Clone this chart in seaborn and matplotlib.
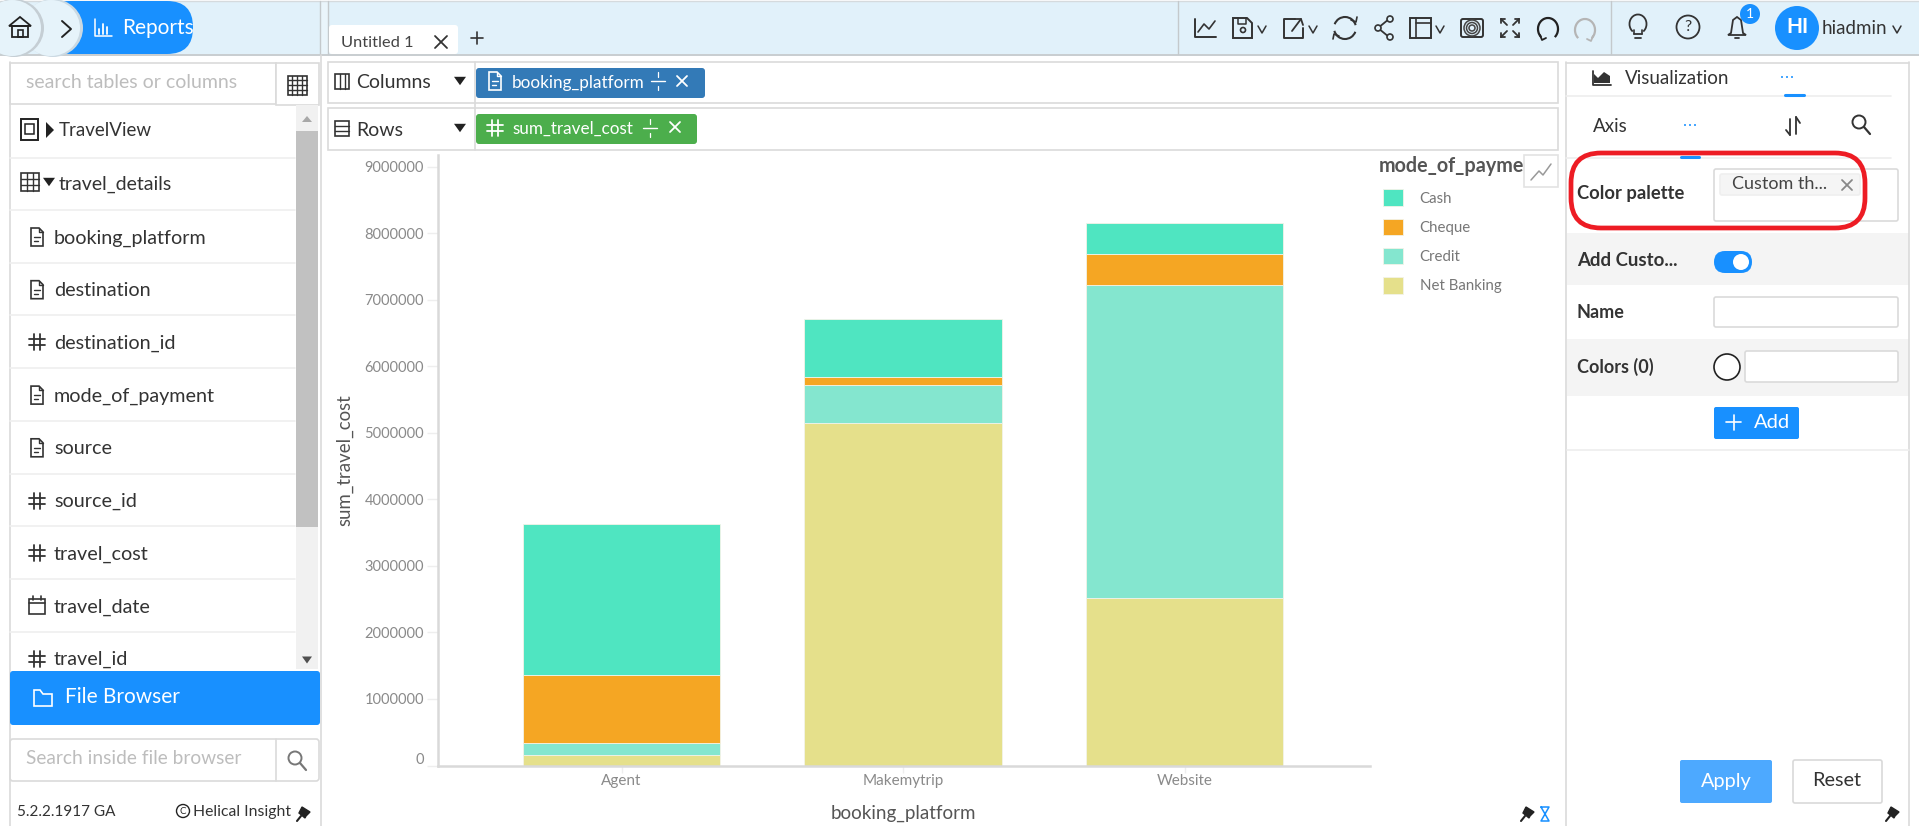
import numpy as np
import pandas as pd
import seaborn as sns
import matplotlib.pyplot as plt
from matplotlib.patches import Rectangle, FancyBboxPatch, Circle, Ellipse, Polygon, Arc
from matplotlib.transforms import Affine2D

platforms = ["Agent", "Makemytrip", "Website"]
modes = ["Cash", "Cheque", "Credit", "Net Banking"]
cash = [2275000, 875000, 467000]
cheque = [1031000, 117000, 474000]
credit = [169000, 571000, 4708000]
net_banking = [162000, 5149000, 2516000]
mode_colors = ["#4FE5C1", "#F5A623", "#84E6CF", "#E5E08B"]
y_ticks = [0, 1000000, 2000000, 3000000, 4000000, 5000000, 6000000, 7000000, 8000000, 9000000]

tables = ["booking_platform", "destination", "destination_id", "mode_of_payment",
          "source", "source_id", "travel_cost", "travel_date", "travel_id"]
table_icons = ["doc", "doc", "hash", "doc", "doc", "hash", "hash", "cal", "hash"]

BLUE = "#1890FF"
TOPBAR = "#E1F1FA"
LINE = "#DADADA"
TEXT = "#333333"

sns.set_theme(style="white")
plt.rcParams["font.family"] = ["Lato", "DejaVu Sans"]

W, H = 1919, 826
fig = plt.figure(figsize=(W / 100, H / 100), dpi=100, facecolor="white")

# whole page in pixels, the app chrome around the chart
ui = fig.add_axes([0, 0, 1, 1], zorder=0)
ui.set_xlim(0, W)
ui.set_ylim(H, 0)
ui.axis("off")


def txt(x, y, s, size=13, color=TEXT, ha="left", **kw):
    ui.text(x, y + 1, s, fontsize=size, color=color, ha=ha, va="center", zorder=6, **kw)


def box(x0, y0, x1, y1, fc="white", ec=LINE, lw=1.2, r=0, z=2):
    if r:
        p = FancyBboxPatch((x0 + r, y0 + r), x1 - x0 - 2 * r, y1 - y0 - 2 * r,
                           boxstyle="round,pad=%f,rounding_size=%f" % (r, r),
                           fc=fc, ec=ec, lw=lw, zorder=z)
    else:
        p = Rectangle((x0, y0), x1 - x0, y1 - y0, fc=fc, ec=ec, lw=lw, zorder=z)
    ui.add_patch(p)


def ln(xs, ys, color="#333333", lw=1.3, z=6):
    ui.plot(xs, ys, color=color, lw=lw, zorder=z, solid_capstyle="round")


def doc(x, y, c="#333333"):
    ui.add_patch(Polygon([(x - 6, y - 9), (x + 2, y - 9), (x + 6, y - 5), (x + 6, y + 9), (x - 6, y + 9)],
                         closed=True, fc="none", ec=c, lw=1.2, zorder=6))
    ln([x + 2, x + 2, x + 6], [y - 9, y - 5, y - 5], c, 1)
    ln([x - 3, x + 3], [y, y], c, 1)
    ln([x - 3, x + 1], [y + 4, y + 4], c, 1)


def hash_icon(x, y, c="#333333"):
    ln([x - 3, x - 3], [y - 8, y + 8], c, 1.3)
    ln([x + 3, x + 3], [y - 8, y + 8], c, 1.3)
    ln([x - 8, x + 8], [y - 3, y - 3], c, 1.3)
    ln([x - 8, x + 8], [y + 3, y + 3], c, 1.3)


def cal(x, y):
    box(x - 8, y - 7, x + 8, y + 8, fc="none", ec="#333333", z=6)
    ln([x - 8, x + 8], [y - 3, y - 3], lw=1.2)
    ln([x - 4, x - 4], [y - 10, y - 6], lw=1.2)
    ln([x + 4, x + 4], [y - 10, y - 6], lw=1.2)


def grid(x, y, w=10, n=3, c="#333333"):
    box(x - w, y - w, x + w, y + w, fc="none", ec=c, z=6)
    for k in range(1, n):
        ln([x - w + 2 * w * k / n] * 2, [y - w, y + w], c, 1)
        ln([x - w, x + w], [y - w + 2 * w * k / n] * 2, c, 1)


def mag(x, y, c="#555555"):
    ui.add_patch(Circle((x - 2, y - 2), 6.5, fc="none", ec=c, lw=1.4, zorder=6))
    ln([x + 3, x + 9], [y + 3, y + 10], c, 1.6)


def cross(x, y, s=6, c="#333333", lw=1.3):
    ln([x - s, x + s], [y - s, y + s], c, lw)
    ln([x - s, x + s], [y + s, y - s], c, lw)


def chev(x, y, c="#333333"):
    ln([x - 4, x, x + 4], [y - 3, y + 4, y - 3], c, 1.1)


def tri(x, y, s=6, c="#222222"):
    ui.add_patch(Polygon([(x - s, y - s * 0.7), (x + s, y - s * 0.7), (x, y + s * 0.7)], fc=c, ec="none", zorder=6))


def split(x, y, c="white"):
    ln([x - 7, x + 7], [y, y], c, 1)
    ln([x, x], [y - 9, y - 4.5], c, 0.9)
    ln([x, x], [y + 4.5, y + 9], c, 0.9)


def pin(x, y):
    ui.add_patch(Polygon([(x - 2, y - 7), (x + 6, y - 2), (x + 2, y + 2), (x + 1, y + 4), (x - 5, y - 1), (x - 4, y - 3)],
                         fc="#222222", ec="#222222", lw=1, zorder=6))
    ln([x - 3, x - 7], [y + 2, y + 7], "#222222", 1.5)


# top bar
box(0, 1, W, 54, fc=TOPBAR, ec="none", z=1)
ln([0, W], [54.5, 54.5], "#C8CDD0", 1.4, 2)
ln([0, W], [0.5, 0.5], "#D5DADD", 1, 2)
box(320, 1, 328, 54, fc="#EAF5FB", ec="none", z=1)
for xd in [320, 328, 1178, 1611]:
    ln([xd, xd], [1, 54], "#C4C9CC", 1, 2)

# breadcrumb pills
box(44, 1, 193, 54, fc=BLUE, ec="none", r=26, z=3)
ui.add_patch(Ellipse((53, 28), 60, 58, fc="#CBD9E2", ec="none", zorder=3))
ui.add_patch(Ellipse((51, 28), 58, 56, fc="#E6F3FA", ec="none", zorder=3))
ui.add_patch(Ellipse((14, 28), 60, 58, fc="#C5CED4", ec="none", zorder=4))
ui.add_patch(Ellipse((12, 28), 58, 56, fc="#E6F3FA", ec="none", zorder=4))
ui.add_patch(Polygon([(9, 26), (20, 17), (31, 26)], fc="none", ec="#222222", lw=1.3, zorder=6))
ui.add_patch(Polygon([(12, 26), (28, 26), (28, 37), (12, 37)], fc="none", ec="#222222", lw=1.3, zorder=6))
box(18, 30, 23, 37, fc="none", ec="#222222", z=6)
ln([62, 71, 62], [21, 29, 37], "#222222", 1.4)
ln([95, 95, 112], [19, 36, 36], "white", 1.1)
for xb, yb in [(99, 29), (103, 24), (107, 27)]:
    ln([xb, xb], [yb, 34], "white", 1.3)
txt(122, 27, "Reports", 15, "white")

# tabs
box(329, 25, 458, 54, fc="white", ec="none", r=3, z=3)
txt(341, 42, "Untitled 1", 11.8, "#444444")
cross(441, 42, 6)
ln([477, 477], [32, 44], lw=1.2)
ln([471, 483], [38, 38], lw=1.2)

# toolbar
ln([1195, 1195, 1216], [19, 37, 37], lw=1.4)
ln([1198, 1204, 1209, 1215], [32, 24, 29, 21], lw=1.2)
ui.add_patch(Polygon([(1233, 18), (1247, 18), (1252, 23), (1252, 38), (1233, 38)], fc="none", ec="#333333", lw=1.4, zorder=6))
ln([1238, 1238, 1246, 1246], [18, 24, 24, 18], lw=1.1)
ui.add_patch(Circle((1243, 30), 2.5, fc="none", ec="#333333", lw=1.2, zorder=6))
chev(1262, 29)
ln([1295, 1284, 1284, 1303, 1303], [19, 19, 38, 38, 28], lw=1.4)
ln([1292, 1301], [31, 19], lw=1.3)
ln([1295, 1301, 1303], [19, 19, 25], lw=1.3)
chev(1313, 29)
ui.add_patch(Arc((1345, 28), 22, 22, theta1=20, theta2=165, ec="#333333", lw=1.5, zorder=6))
ui.add_patch(Arc((1345, 28), 22, 22, theta1=200, theta2=345, ec="#333333", lw=1.5, zorder=6))
ln([1351, 1356, 1357], [20, 22, 17], lw=1.2)
ln([1339, 1334, 1333], [36, 34, 39], lw=1.2)
ln([1389, 1378, 1389], [19, 28, 37], lw=1.3)
for xc, yc in [(1390, 19), (1378, 28), (1390, 37)]:
    ui.add_patch(Circle((xc, yc), 3, fc=TOPBAR, ec="#333333", lw=1.2, zorder=7))
box(1410, 18, 1431, 38, fc="none", ec="#333333", lw=1.4, z=6)
ln([1416, 1416], [18, 38], lw=1.2)
ln([1416, 1431], [23, 23], lw=1.2)
chev(1440, 29)
box(1461, 19, 1483, 37, fc="none", ec="#333333", lw=1.4, r=2, z=6)
for rad in [8, 5.5, 3]:
    ui.add_patch(Circle((1472, 28), rad, fc="none", ec="#444444", lw=1.1, zorder=6))
for sx, sy in [(-1, -1), (1, -1), (-1, 1), (1, 1)]:
    ln([1510 + sx * 3, 1510 + sx * 9], [28 + sy * 3, 28 + sy * 9], lw=1.3)
    ln([1510 + sx * 9, 1510 + sx * 9], [28 + sy * 5, 28 + sy * 9], lw=1.3)
    ln([1510 + sx * 5, 1510 + sx * 9], [28 + sy * 9, 28 + sy * 9], lw=1.3)
ui.add_patch(Arc((1548, 29), 20, 22, theta1=130, theta2=50 + 360, ec="#222222", lw=1.6, zorder=6))
ln([1540, 1542, 1546], [35, 40, 38], "#222222", 1.3)
ui.add_patch(Arc((1585, 30), 20, 22, theta1=130, theta2=50 + 360, ec="#B5B5B5", lw=1.6, zorder=6))
ln([1593, 1591, 1587], [36, 41, 39], "#B5B5B5", 1.3)
ui.add_patch(Arc((1638, 24), 17, 19, theta1=125, theta2=55 + 360, ec="#333333", lw=1.3, zorder=6))
ln([1634, 1642], [34, 34], lw=1.3)
ln([1635, 1641], [38, 38], lw=1.3)
ln([1634, 1634], [30, 34], lw=1.2)
ln([1642, 1642], [30, 34], lw=1.2)
ui.add_patch(Circle((1688, 27), 11.5, fc="none", ec="#333333", lw=1.3, zorder=6))
txt(1688, 26, "?", 11.5, ha="center")
ui.add_patch(Polygon([(1737, 17), (1741, 20), (1743, 33), (1746, 35), (1728, 35), (1731, 33), (1733, 20)],
                     fc="none", ec="#333333", lw=1.3, zorder=6))
ln([1735, 1739], [38, 38], lw=1.3)
ui.add_patch(Circle((1750, 14), 10, fc=BLUE, ec="none", zorder=7))
ui.text(1750, 13.5, "1", fontsize=10, color="white", ha="center", va="center", zorder=8)
ui.add_patch(Circle((1797, 28), 22, fc=BLUE, ec="none", zorder=6))
ui.text(1797, 27, "HI", fontsize=15, color="white", ha="center", va="center", zorder=8, fontweight="bold")
txt(1822, 27, "hiadmin", 13.5)
chev(1897, 29)

# left side panel
ln([9.5, 9.5], [62, H], LINE, 1.2, 3)
ln([320.5, 320.5], [55, H], LINE, 1.2, 3)
box(10, 63, 276, 104)
box(276, 63, 319, 105)
txt(26, 82, "search tables or columns", 14, "#BDBDBD")
grid(297, 85, 9.5, 4, "#333333")

box(296, 105, 318, 669, fc="#F1F1F1", ec="none", z=2)
box(296, 131, 318, 527, fc="#C1C1C1", ec="none", z=3)
ui.add_patch(Polygon([(302, 122), (312, 122), (307, 116)], fc="#A8A8A8", ec="none", zorder=6))
tri(307, 660, 5, "#505050")

box(21, 119, 38, 140, fc="none", ec="#222222", lw=1.4, z=6)
box(25, 124, 34, 134, fc="none", ec="#222222", lw=1.1, z=6)
ui.add_patch(Polygon([(46, 122), (46, 138), (54, 130)], fc="#222222", ec="none", zorder=6))
txt(59, 130, "TravelView", 13.5)
grid(30, 182, 9, 3)
tri(49, 182, 6)
txt(59, 183, "travel_details", 14)

row0, step = 237, 52.7
for i, (name, kind) in enumerate(zip(tables, table_icons)):
    ry = row0 + i * step
    ln([10, 295], [ry - 27, ry - 27], "#EFEFEF", 1.2, 3)
    if kind == "doc":
        doc(37, ry)
    elif kind == "hash":
        hash_icon(37, ry)
    else:
        cal(37, ry)
    txt(54, ry, name, 14.2)
ln([10, 295], [158, 158], "#EFEFEF", 1.2, 3)

box(10, 671, 320, 725, fc=BLUE, ec="none", r=3, z=4)
ui.add_patch(Polygon([(34, 690), (40, 690), (43, 694), (52, 694), (52, 706), (34, 706)], fc="none", ec="white", lw=1.2, zorder=6))
txt(65, 696, "File Browser", 15, "white")
box(10, 739, 319, 781, r=3)
ln([276, 276], [739, 781], LINE, 1.2, 3)
txt(26, 757, "Search inside file browser", 13.8, "#BDBDBD")
mag(297, 760, "#777777")
txt(17, 811, "5.2.2.1917 GA", 11)
ui.add_patch(Circle((183, 811), 6.5, fc="none", ec="#222222", lw=1, zorder=6))
ui.text(183, 811, "C", fontsize=7, color="#222222", ha="center", va="center", zorder=7)
txt(193, 811, "Helical Insight", 11.3)
pin(304, 814)

# columns and rows shelves
box(328, 62, 1558, 103)
box(328, 108, 1558, 150)
ln([475, 475], [62, 150], LINE, 1.2, 3)
box(335, 74, 349, 89, fc="none", ec="#333333", z=6)
ln([340, 340], [74, 89], lw=1)
ln([344.5, 344.5], [74, 89], lw=1)
txt(356, 81, "Columns", 14)
tri(460, 81, 6)
box(335, 121, 349, 136, fc="none", ec="#333333", z=6)
ln([335, 349], [126, 126], lw=1)
ln([335, 349], [131, 131], lw=1)
txt(356, 129, "Rows", 14)
tri(460, 128, 6)
box(476, 68, 705, 98, fc="#337AB7", ec="none", r=3, z=4)
doc(495, 81, "white")
txt(512, 82, "booking_platform", 12.3, "white")
split(658, 81)
cross(682, 81, 5, "white")
box(476, 114, 697, 144, fc="#4CAE4C", ec="none", r=3, z=4)
hash_icon(495, 128, "white")
txt(512, 128, "sum_travel_cost", 12.3, "white")
split(650, 128)
cross(675, 127, 5, "white")

# right side panel
ln([1566, 1566], [62, H], LINE, 1.2, 3)
ln([1909, 1909], [62, H], LINE, 1.2, 3)
ln([1566, 1909], [62.5, 62.5], LINE, 1.2, 3)
ui.add_patch(Polygon([(1594, 83), (1594, 74), (1598, 78), (1604, 72), (1610, 76), (1610, 83)], fc="#333333", ec="none", zorder=6))
ln([1593, 1593, 1611], [71, 85, 85], lw=1.3)
txt(1625, 78, "Visualization", 13.5)
ln([1566, 1891], [95.5, 95.5], "#EEEEEE", 1.2, 3)
ln([1785, 1804], [95, 95], BLUE, 2.2, 4)
for cx, cy in [(1787, 77), (1690, 125)]:
    for k in (-5, 0, 5):
        ui.add_patch(Circle((cx + k, cy), 1, fc=BLUE, ec="none", zorder=6))
txt(1593, 125, "Axis", 13.5)
ln([1790, 1790], [119, 135], lw=1.3)
ln([1786, 1790], [130, 135], lw=1.3)
ln([1796, 1796], [117, 134], lw=1.3)
ln([1796, 1800], [117, 123], lw=1.3)
mag(1861, 124, "#333333")
ln([1566, 1891], [157.5, 157.5], "#EEEEEE", 1.2, 3)
ln([1681, 1699], [157, 157], BLUE, 2.2, 4)

txt(1577, 193, "Color palette", 13.2, fontweight="bold")
box(1714, 169, 1898, 221, r=2)
box(1720, 174, 1860, 195, fc="#F5F5F5", ec="#EFEFEF", r=2, z=3)
txt(1732, 183, "Custom th...", 13, "#444444")
cross(1847, 185, 5, "#888888")
box(1571, 153, 1865, 228, fc="none", ec="#ED1C24", lw=3.4, r=30, z=7)

box(1567, 233, 1909, 285, fc="#F4F4F4", ec="none", z=1)
box(1567, 339, 1909, 396, fc="#F4F4F4", ec="none", z=1)
txt(1577, 259, "Add Custo...", 13.4, fontweight="bold")
box(1714, 251, 1752, 273, fc=BLUE, ec="none", r=11, z=4)
ui.add_patch(Circle((1741, 262), 8, fc="white", ec="none", zorder=6))
txt(1577, 312, "Name", 13, fontweight="bold")
box(1714, 297, 1898, 327, r=2)
txt(1577, 366, "Colors (0)", 13, fontweight="bold")
ui.add_patch(Circle((1727, 367), 13, fc="white", ec="#222222", lw=1.2, zorder=5))
box(1745, 351, 1898, 382, r=2)
box(1714, 407, 1799, 439, fc=BLUE, ec="none", r=2, z=4)
ln([1726, 1741], [422, 422], "white", 1.2)
ln([1733.5, 1733.5], [415, 430], "white", 1.2)
txt(1754, 421, "Add", 14.5, "white")
ln([1567, 1909], [450, 450], "#EEEEEE", 1.2, 3)
box(1680, 760, 1772, 803, fc="#4DA9FF", ec="none", r=2, z=4)
txt(1726, 780, "Apply", 14.3, "white", ha="center")
box(1793, 760, 1882, 803, fc="white", ec="#D9D9D9", r=2, z=4)
txt(1837, 780, "Reset", 14.3, ha="center")
pin(1893, 814)
pin(1528, 814)
ln([1541, 1549, 1541, 1549, 1541], [807, 807, 821, 821, 807], BLUE, 1.1)

# small trend button over the legend corner
box(1524, 155, 1558, 187, ec="#E3E3E3", z=5)
ln([1531, 1539, 1543, 1551], [180, 171, 175, 164], "#999999", 1.1)

# the chart itself
df = pd.DataFrame({
    "booking_platform": platforms * 4,
    "mode_of_payment": np.repeat(modes, 3),
    "sum_travel_cost": cash + cheque + credit + net_banking,
})

ax_bottom, ax_top = 765.5, 155
ax = fig.add_axes([438 / W, 1 - ax_bottom / H, (1370 - 438) / W, (ax_bottom - ax_top) / H], zorder=1)
ax.patch.set_alpha(0)
sns.histplot(data=df, x="booking_platform", weights="sum_travel_cost", hue="mode_of_payment",
             hue_order=modes, multiple="stack", discrete=True, shrink=0.7,
             palette=mode_colors, alpha=1, edgecolor="#F3F3E8", linewidth=0.6, ax=ax)
ax.set_xlim(-0.652, 2.659)
ax.set_ylim(0, 9180000)
ax.set_yticks(y_ticks)
ax.set_yticklabels([str(v) for v in y_ticks])
sns.despine(ax=ax)
for side in ["left", "bottom"]:
    ax.spines[side].set_color("#D9D9D9")
    ax.spines[side].set_linewidth(1.8)
ax.tick_params(axis="y", length=8, width=1, color="#EEEEEE", labelcolor="#8A8A8A", labelsize=10.5, pad=2, left=True)
ax.tick_params(axis="x", length=5, width=1, color="#EEEEEE", labelcolor="#8A8A8A", labelsize=11, pad=1, bottom=True)
# the zero label sits a little above its tick
zero_label = ax.get_yticklabels()[0]
zero_label.set_transform(zero_label.get_transform() + Affine2D().translate(0, 7))
ax.set_xlabel("booking_platform", fontsize=13.5, color="#555555")
ax.xaxis.set_label_coords(0.4995, (ax_bottom - 804.5) / (ax_bottom - ax_top))
ax.set_ylabel("sum_travel_cost", fontsize=13.4, color="#555555")
ax.yaxis.set_label_coords((353 - 438) / (1370 - 438), (ax_bottom - 460) / (ax_bottom - ax_top))

sns.move_legend(ax, "upper left", bbox_to_anchor=(1376 / W, 1 - 153.5 / H), bbox_transform=fig.transFigure,
                frameon=False, title="mode_of_payme", alignment="left", fontsize=10.8,
                title_fontsize=14.2, labelspacing=0.86, handlelength=1.3, handleheight=1.3,
                handletextpad=1.4, borderpad=0.2, borderaxespad=0)
leg = ax.get_legend()
leg.get_title().set_color("#555555")
leg.get_title().set_fontweight("bold")
for t in leg.get_texts():
    t.set_color("#777777")
for p in leg.get_patches():
    p.set_x(p.get_x() + 3.2)

fig.savefig("out.png", dpi=100)
